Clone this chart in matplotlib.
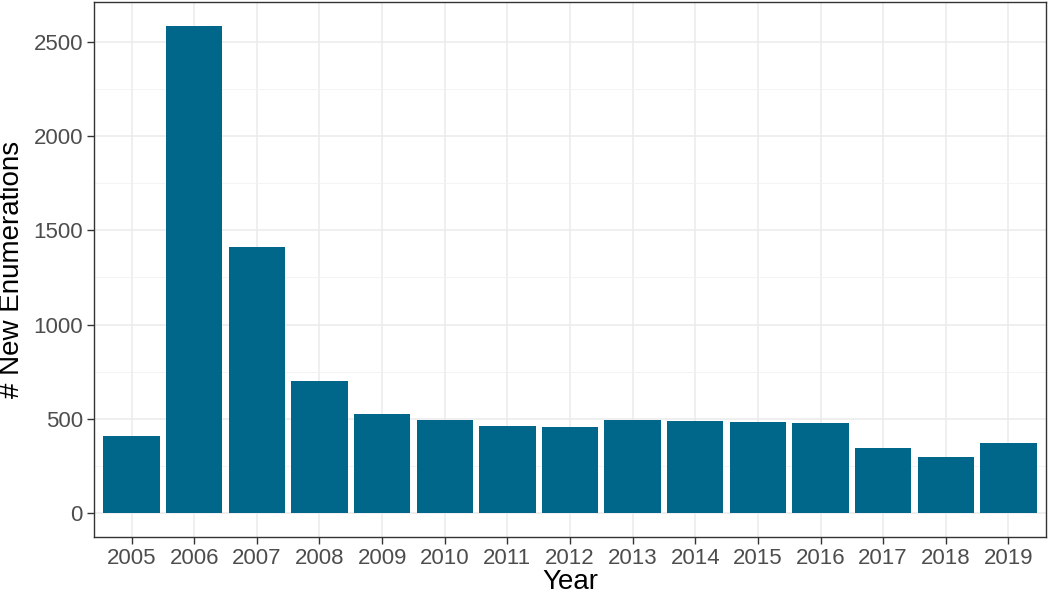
import matplotlib
matplotlib.use("Agg")
import matplotlib.pyplot as plt
import numpy as np

years = ["2005", "2006", "2007", "2008", "2009", "2010", "2011", "2012",
         "2013", "2014", "2015", "2016", "2017", "2018", "2019"]
counts = [409, 2585, 1411, 699, 526, 492, 459, 456, 494, 489, 481, 478, 345, 298, 370]

plt.rcParams['font.family'] = ['Liberation Sans', 'DejaVu Sans']

fig = plt.figure(figsize=(10.5, 5.98), dpi=100)
ax = fig.add_axes([94/1050, 1 - 537/598, (1046 - 94)/1050, (537 - 2)/598])

x = np.arange(len(years))
ax.bar(x, counts, width=0.9, color='#00668A', zorder=3)

ymax = max(counts)
ax.set_ylim(-0.05 * ymax, 1.05 * ymax)
ax.set_xlim(-0.6, len(years) - 0.4)
ax.set_xticks(x)
ax.set_xticklabels(years)
ax.set_yticks([0, 500, 1000, 1500, 2000, 2500])
ax.set_yticks([250, 750, 1250, 1750, 2250], minor=True)

ax.grid(True, which='major', color='#EBEBEB', linewidth=1.1, zorder=0)
ax.grid(True, which='minor', axis='y', color='#F2F2F2', linewidth=0.6, zorder=0)
ax.tick_params(which='minor', length=0)
ax.tick_params(which='major', length=5, width=1.0, color='#333333',
               labelsize=16, labelcolor='#4D4D4D', pad=3)
for s in ax.spines.values():
    s.set_color('#333333')
    s.set_linewidth(1.0)

ax.set_xlabel('Year', fontsize=20, color='black', labelpad=0)
ax.set_ylabel('# New Enumerations', fontsize=20, color='black', labelpad=6)

fig.savefig('out.png', dpi=100)
